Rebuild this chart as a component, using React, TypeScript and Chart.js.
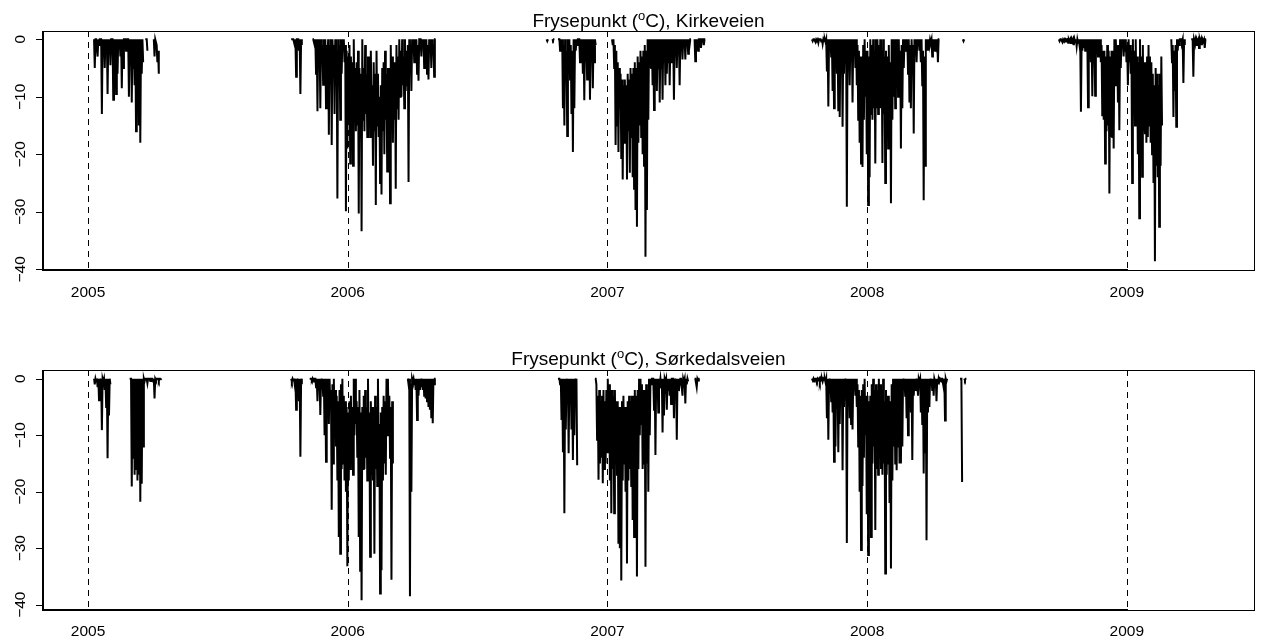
import React, { useEffect, useRef } from "react";
import { Chart, registerables } from "chart.js";
Chart.register(...registerables);

// ---- axis ticks ----
const YEAR_TICKS = [2005, 2006, 2007, 2008, 2009];
const Y_TICKS = [0, -10, -20, -30, -40];
const STEP_DAYS = 2; // each entry = one 2-day window: HI = shallowest, LO = deepest reading

// ===================== Kirkeveien =====================
const KIRKE_2005_START = { year: 2005, day: 9 };
const KIRKE_2005_LO = [-5, 0, -3, -1, 0, -13, -1, -5, -2, -9.5, -1, -4.5, 0, -10.5, -3, -9.5, -6, -1, -3, -8.5, -5, 0, -2, 0, -10, -1, -11, -5, -8, -16, -6, -15, -18, -6, -4, null, 0, -2, null, null, null, null, -3, 0, -4, -6];
const KIRKE_2005_HI = [0, 0, 0, 0, 0, 0, 0, 0, 0, 0, 0, 0, 0, 0, 0, 0, 0, 0, 0, 0, 0, 0, 0, 0, 0, 0, 0, 0, 0, 0, 0, 0, 0, 0, 0, null, 0, 0, null, null, null, null, 0, 0, -1, -2];

const KIRKE_0506_START = { year: 2006, day: -79 };
const KIRKE_0506_LO = [0, 0, -1, -6.5, 0, -2, -9.5, -1,
  null, null, null, null, null, null, null,
  0, -1, -6, -12.5, -3, -12, -2, -7.9, -1, -12, -4, -16.6, -6, -18.4, -3, -13, -8, -27.7, -2, -14, -6, -1, -4, -29.9, -19,
  -14, -21.6, -15, -22, -12, -16, -15, -30.3, -17, -33.4, -14, -16, -13, -17, -15, -17, -14, -22, -16, -28.8, -15, -17, -25, -27, -16, -20, -14, -23, -16, -28.5, -13, -18, -14, -26, -12, -14, -10, -10, -8, -12, -9, -8, -24.8, -4, -9, -2,
  -4, -1, -6, -7.2, 0, -3, -1, -5, -1, -6, -7, -2, -5, -1, -6.5, 0];
const KIRKE_0506_HI = [0, 0, 0, 0, 0, 0, 0, 0,
  null, null, null, null, null, null, null,
  0, 0, 0, 0, 0, 0, 0, -1, 0, 0, -1, 0, -1, 0, 0, -1, 0, -2, 0, -1, 0, 0, 0, -1, -2,
  -3, -1, -3, -4, 0, -5, -4, -2, -5, -6, 0, -5, -1, -6, -3, -3, -2, -8, -4, -6, -2, -6, -10, -8, -5, -4, -2, -6, -5, -5, -1, -3, -4, -4, -1, -3, 0, -2, 0, -3, 0, -2, -1, 0, -1, 0,
  0, 0, 0, -1, 0, 0, 0, 0, 0, 0, -1, 0, 0, 0, -1, 0];

const KIRKE_0607_START = { year: 2007, day: -85 };
const KIRKE_0607_LO = [-0.3, 0, null, null, -0.2, 0, null, null,
  0, -2, -1, -12, -15, -4, -16.8, -2, -7, -13, -19.6, -12, -2, -1, 0, -4, -1, -6, -10.6, -4, -7, -2, -10.5, -3, -8.5, -4, -1,
  null, null, null, null, null, null, null, null, null, null, null,
  -1, -5, -18.4, -15, -19.6, -12, -20.8, -24.4, -18, -17, -24.4, -16, -23.2, -17, -24, -26, -29.7, -32.6, -18, -15, -17, -20, -22, -37.8, -29.7, -14, -5, -5,
  -8, -12.3, -5, -9, -5, -11, -5, -10.5, -4, -8, -6, -4, -8, -4, -4, -10.5, -2, -5, -2, -8, -1, -3.5, -1, -3.5, -1, -2.5, -1, 0, null, null, -3.8, -1, -2, 0, -1.5, 0, -1, 0];
const KIRKE_0607_HI = [0, 0, null, null, 0, 0, null, null,
  0, 0, 0, 0, -1, 0, -2, 0, 0, -1, -2, 0, 0, 0, 0, 0, 0, 0, 0, 0, 0, 0, 0, 0, 0, 0, 0,
  null, null, null, null, null, null, null, null, null, null, null,
  0, 0, -1, -2, -4, -5, -6, -7, -8, -7, -8, -6, -7, -5, -6, -5, -4, -5, -3, -4, -2, -3, -2, -1, -2, 0, 0, 0,
  0, 0, 0, 0, 0, 0, 0, 0, 0, 0, 0, 0, 0, 0, 0, 0, 0, 0, 0, 0, 0, 0, 0, 0, 0, 0, 0, 0, null, null, 0, 0, 0, 0, 0, 0, 0, 0];

const KIRKE_0708_START = { year: 2008, day: -77 };
const KIRKE_0708_LO = [-0.3, 0, -0.5, -0.2, -0.6, 0, -0.4, -0.8, -0.3, -0.5,
  -5.6, -11.7, -1, -3, -9, -12, -2, -6, -12.5, -13.5, -4, -15.2, -6, -1, -29.1, -1, -8, -3, -11, -2, -5, -8, -14, -18, -21.6, -22.2, -14, -10, -20,
  -28.8, -24, -13, -14, -12, -21.6, -12, -13, -12, -12, -21.5, -13, -25, -17, -19, -16, -28.5, -14, -10, -12, -8, -10, -9, -19, -12, -5, -2, -1, -6, -11, -12, -4, -16.4, -1, -4, -1, -2, -4, -8, -28, -22, -1, -2, -1, -0.5, -3, -1, -2, -1, -4, 0,
  null, null, null, null, null, null, null, null, null, null, null, null, null, null, null, null, -0.3, 0];
const KIRKE_0708_HI = [0, 0, 0, 0, 0, 0, 0, 0, 0, 0,
  0, 0, 0, 0, 0, 0, 0, 0, 0, 0, 0, 0, 0, 0, 0, 0, 0, 0, 0, 0, 0, 0, -1, -2, -3, -3, -1, 0, -2,
  -2, -3, 0, -1, 0, -2, 0, 0, -1, 0, -2, 0, -3, -2, -3, -1, -4, 0, 0, 0, 0, 0, 0, -2, -1, 0, 0, 0, 0, 0, -1, 0, -1, 0, 0, 0, 0, 0, 0, -2, -3, 0, 0, 0, 0, 0, 0, 0, 0, 0, 0,
  null, null, null, null, null, null, null, null, null, null, null, null, null, null, null, null, 0, 0];

const KIRKE_0809_START = { year: 2009, day: -95 };
const KIRKE_0809_LO = [-0.3, 0, -0.5, -0.2, -0.4, -0.1, -0.6, -0.3, -0.8, -0.4, -1, -0.5, -1.2, -0.6, -1,
  -12.6, -2, -1.5, -2, -1, -11.8, -2.5, -4, -9.9, -1, -9.8, -1.5, -3, -2, -4, -13.2, -14, -21.6, -16, -15, -26.8, -17, -17, -19, -8, -5, -11, -15.8, -5, -1, -3, -2, -4,
  -8, -4, -6, -25, -12, -15, -10, -20, -31.1, -14, -23.9, -16, -16.5, -18, -17, -15, -18, -20, -25, -38.6, -22, -24, -32.6, -22, -15,
  null, null, null, null, null, null,
  -4, -13.5, -9, -15.2, -2, -1, 0, -0.5, -7.6, -1,
  null, null, null, null,
  0, -6.5, -0.5, -1, -0.3, -1.5, -0.5, -1, -0.3, -1.5, 0];
const KIRKE_0809_HI = [0, 0, 0, 0, 0, 0, 0, 0, 0, 0, 0, 0, 0, 0, 0,
  0, 0, 0, 0, 0, 0, 0, 0, 0, 0, 0, 0, 0, 0, 0, -1, -2, -2, -3, -1, -2, -3, -2, -2, 0, 0, -1, -1, 0, 0, 0, 0, 0,
  -1, 0, -1, -2, 0, -2, 0, -3, -4, 0, -3, -1, -4, -4, -3, -1, -3, -4, -6, -8, -5, -6, -8, -6, -3,
  null, null, null, null, null, null,
  0, -1, -2, -1, 0, 0, 0, 0, 0, 0,
  null, null, null, null,
  0, 0, 0, 0, 0, 0, 0, 0, 0, 0, 0];

// ===================== Sørkedalsveien =====================
const SORK_2005_START = { year: 2005, day: 9 };
const SORK_2005_LO = [-1, -0.5, -1.5, -3.8, -1, -9.1, -0.5, -2, -5, -14.1, -6.5, -1,
  null, null, null, null, null, null, null, null, null, null, null, null, null,
  0, -19.1, -14, -17, -16, -18, -17, -21.8, -18.6, -12, -0.5, 0, -0.8, 0, -0.4, 0, -0.5, -3.5, -0.3, 0, -0.4, 0, -0.2];
const SORK_2005_HI = [0, 0, 0, 0, 0, 0, 0, 0, 0, 0, 0, 0,
  null, null, null, null, null, null, null, null, null, null, null, null, null,
  0, 0, 0, 0, 0, 0, 0, 0, 0, 0, 0, 0, 0, 0, 0, 0, 0, 0, 0, 0, 0, 0, 0];

const SORK_0506_START = { year: 2006, day: -79 };
const SORK_0506_LO = [-0.5, -0.3, -1, -5.5, -1, -4, -13.8, -1,
  null, null, null, null, null,
  0, -0.3, -0.5, 0, -1.5, -4, -2, -6.4, -1, -3, -10, -14.7, -3, -8, -5, -23.2, -15, -10, -12, -18, -28, -31, -16, -15, -18, -20, -33.2,
  -18, -16, -15, -17, -10, -8, -14, -28, -34, -39.2, -16, -16, -14, -18, -15, -31.5, -17, -18, -31, -16, -19, -14, -38, -33.9, -18, -15, -17, -10, -8, -14, -35.6, -15,
  null, null, null, null, null, null, null, null, null, null,
  -1, -38.5, -20, -0.5, -1, -2, -7.3, -3, -2, -1.5, -2, -3, -3.5, -4, -5, -5.5, -7, -7.9, -1, 0];
const SORK_0506_HI = [0, 0, 0, 0, 0, 0, 0, 0,
  null, null, null, null, null,
  0, 0, 0, 0, 0, 0, 0, 0, 0, 0, 0, 0, 0, 0, 0, -2, -1, 0, -2, -3, -4, -2, -1, 0, -3, -4, -5,
  -6, -4, -3, -5, 0, 0, -4, -5, -2, -6, -5, -3, -2, -5, 0, -6, -4, -5, -7, -3, -5, 0, -8, -6, -5, -3, -4, 0, 0, -3, -5, -4,
  null, null, null, null, null, null, null, null, null, null,
  0, 0, -1, 0, 0, 0, 0, 0, 0, 0, 0, 0, 0, 0, 0, 0, 0, 0, 0, 0];

const SORK_0607_START = { year: 2007, day: -69 };
const SORK_0607_LO = [0, -1, -7.3, -13, -23.8, -9, -1, -13.2, -3, -9, -14.4, -10, -1, -15.3,
  null, null, null, null, null, null, null, null, null, null, null, null,
  0, -10.8, -17.9, -15, -14, -18.5, -16, -15, -13,
  -8, -18, -23.8, -16, -23.8, -14, -17, -29.2, -30, -35.7, -18, -15, -20, -32.7, -18, -16, -19, -25, -28, -18, -35, -16, -10, -8, -16, -15, -33.3, -15, -20, -10, -1, 0,
  -5.5, -13.5, -3, -6, -1, -1.5, -9.5, -6.5, -0.5, -5.5, -2, -3, -4.5, 0, -7, -1, -10.8, -2, -1, 0, -3, -0.5, -4.4, -1, -0.5,
  null, null, null, null,
  0, -1.5, -0.3, 0];
const SORK_0607_HI = [0, 0, 0, 0, 0, 0, 0, 0, 0, 0, 0, 0, 0, 0,
  null, null, null, null, null, null, null, null, null, null, null, null,
  0, -1, -3, -2, -4, -3, -2, -4, -2,
  0, -1, -2, -2, -3, -2, -4, -4, -5, -5, -4, -3, -5, -5, -4, -3, -4, -3, -3, -2, -3, -2, 0, 0, -1, -2, -2, -1, -2, 0, 0, 0,
  0, 0, 0, 0, 0, 0, 0, 0, 0, 0, 0, 0, 0, 0, 0, 0, 0, 0, 0, 0, 0, 0, 0, 0, 0,
  null, null, null, null,
  0, 0, 0, 0];

const SORK_0708_START = { year: 2008, day: -77 };
const SORK_0708_LO = [-0.3, -0.5, 0, -0.4, -0.2, -0.6, -0.3, -0.5, -0.2, -0.6,
  -7, -10.8, -1, -4, -6, -14.7, -12, -5, -13, -8, -3, -16.2, -5, -1, -29.1, -2, -7, -8, -9, -2, -3, -5, -12, -20, -30.3, -19, -14, -10, -24,
  -31.2, -20, -28, -15, -12, -26.8, -16, -17, -14, -16, -17, -15, -34.5, -17, -15, -22, -33.6, -18, -12, -15, -16.2, -12, -15, -15, -12, -1, -3, -7, -10, -4, -6, -14.4, -3, -2, -1, -3, -0.5, -6, -8, -16.8, -13, -28.6, -6, -5, -1, -2, -3, -0.5, -4, -1, -0.5, -0.2, 0, -1.5, -7.4, -0.5, 0,
  null, null, null, null, null, null, null, null, 0, -18.3, null, -0.3, 0];
const SORK_0708_HI = [0, 0, 0, 0, 0, 0, 0, 0, 0, 0,
  0, 0, 0, 0, 0, 0, 0, 0, 0, 0, 0, 0, 0, 0, 0, 0, 0, 0, 0, 0, 0, 0, -1, -2, -3, -2, -1, 0, -3,
  -3, -4, -3, -1, 0, -2, -1, -2, 0, -1, -2, 0, -4, -2, -3, -3, -4, -1, 0,
  0, 0, 0, 0, 0, 0, 0, 0, 0, 0, 0, 0, 0, 0, 0, 0, 0, 0, 0, 0, 0, 0, 0, 0, 0, 0, 0, 0, 0, 0, 0, 0, 0, 0, 0, 0, 0, 0,
  null, null, null, null, null, null, null, null, 0, 0, null, 0, 0];

type Vals = (number | null)[];
type Season = { start: { year: number; day: number }; hi: Vals; lo: Vals };

const KIRKE_SEASONS: Season[] = [
  { start: KIRKE_2005_START, hi: KIRKE_2005_HI, lo: KIRKE_2005_LO },
  { start: KIRKE_0506_START, hi: KIRKE_0506_HI, lo: KIRKE_0506_LO },
  { start: KIRKE_0607_START, hi: KIRKE_0607_HI, lo: KIRKE_0607_LO },
  { start: KIRKE_0708_START, hi: KIRKE_0708_HI, lo: KIRKE_0708_LO },
  { start: KIRKE_0809_START, hi: KIRKE_0809_HI, lo: KIRKE_0809_LO },
];
const SORK_SEASONS: Season[] = [
  { start: SORK_2005_START, hi: SORK_2005_HI, lo: SORK_2005_LO },
  { start: SORK_0506_START, hi: SORK_0506_HI, lo: SORK_0506_LO },
  { start: SORK_0607_START, hi: SORK_0607_HI, lo: SORK_0607_LO },
  { start: SORK_0708_START, hi: SORK_0708_HI, lo: SORK_0708_LO },
];

function toPoints(seasons: Season[]) {
  const pts: { x: number; y: number | null }[] = [];
  seasons.forEach((s, k) => {
    if (k > 0) pts.push({ x: s.start.year + (s.start.day - 1) / 365, y: null });
    s.lo.forEach((v, i) => {
      const d = s.start.day + STEP_DAYS * i;
      const h = s.hi[i];
      if (v === null || v === undefined) {
        pts.push({ x: s.start.year + d / 365, y: null });
        return;
      }
      pts.push({ x: s.start.year + (d - 0.5) / 365, y: h === null || h === undefined ? v : h });
      pts.push({ x: s.start.year + (d + 0.5) / 365, y: v });
    });
  });
  return pts;
}

const FONT = '"Liberation Sans", Arial, Helvetica, sans-serif';

const rAxesPlugin = {
  id: "rAxes",
  afterDatasetsDraw(chart: any, _args: any, opts: any) {
    const { ctx, chartArea: a } = chart;
    const x = chart.scales.x;
    const y = chart.scales.y;
    ctx.save();
    ctx.strokeStyle = "#000";
    ctx.fillStyle = "#000";
    // dashed year lines
    ctx.lineWidth = 1;
    ctx.setLineDash([6, 5]);
    YEAR_TICKS.forEach((yr) => {
      const px = Math.round(x.getPixelForValue(yr)) + 0.5;
      ctx.beginPath();
      ctx.moveTo(px, a.top);
      ctx.lineTo(px, a.bottom);
      ctx.stroke();
    });
    ctx.setLineDash([]);
    // box
    ctx.strokeRect(a.left + 0.5, a.top + 0.5, a.right - a.left, a.bottom - a.top);
    // axis lines overlapping the box
    const x09 = Math.round(x.getPixelForValue(2009));
    ctx.fillRect(a.left - 1, a.top, 2, a.bottom - a.top + 1);
    ctx.fillRect(a.left - 1, a.bottom - 1, x09 - a.left + 2, 2);
    // y ticks + rotated labels
    ctx.font = `15.5px ${FONT}`;
    Y_TICKS.forEach((v) => {
      const py = Math.round(y.getPixelForValue(v)) + 0.5;
      ctx.beginPath();
      ctx.moveTo(a.left, py);
      ctx.lineTo(a.left - 7, py);
      ctx.stroke();
      ctx.save();
      ctx.translate(opts.yLabelX, y.getPixelForValue(v));
      ctx.rotate(-Math.PI / 2);
      ctx.textAlign = "center";
      ctx.textBaseline = "alphabetic";
      ctx.fillText(v === 0 ? "0" : "\u2212" + Math.abs(v), 0, 0);
      ctx.restore();
    });
    // x labels
    ctx.textAlign = "center";
    ctx.textBaseline = "alphabetic";
    YEAR_TICKS.forEach((yr) => {
      ctx.fillText(String(yr), x.getPixelForValue(yr), opts.xLabelY);
    });
    // title with superscript
    const mainFont = `19px ${FONT}`;
    const supFont = `13px ${FONT}`;
    const p1 = "Frysepunkt (";
    const p2 = "o";
    const p3 = "C), " + opts.name;
    ctx.font = mainFont;
    const w1 = ctx.measureText(p1).width;
    const w3 = ctx.measureText(p3).width;
    ctx.font = supFont;
    const w2 = ctx.measureText(p2).width;
    let sx = (a.left + a.right) / 2 - (w1 + w2 + w3) / 2;
    ctx.textAlign = "left";
    ctx.font = mainFont;
    ctx.fillText(p1, sx, opts.titleY);
    sx += w1;
    ctx.font = supFont;
    ctx.fillText(p2, sx, opts.titleY - 7);
    sx += w2;
    ctx.font = mainFont;
    ctx.fillText(p3, sx, opts.titleY);
    ctx.restore();
  },
};

type PanelCfg = {
  seasons: Season[];
  name: string;
  padding: { left: number; right: number; top: number; bottom: number };
  yMin: number;
  yMax: number;
  titleY: number;
  xLabelY: number;
  yLabelX: number;
};

const X_MIN = 2004.8267;
const X_MAX = 2009.4897;

const PANELS: PanelCfg[] = [
  {
    seasons: KIRKE_SEASONS,
    name: "Kirkeveien",
    padding: { left: 43, right: 7, top: 31, bottom: 51 },
    yMin: -40.12,
    yMax: 1.443,
    titleY: 27,
    xLabelY: 297,
    yLabelX: 25,
  },
  {
    seasons: SORK_SEASONS,
    name: "Sørkedalsveien",
    padding: { left: 43, right: 7, top: 49, bottom: 32 },
    yMin: -40.94,
    yMax: 1.54,
    titleY: 44,
    xLabelY: 315,
    yLabelX: 25,
  },
];

function makeChart(canvas: HTMLCanvasElement, p: PanelCfg) {
  return new Chart(canvas, {
    type: "line",
    data: {
      datasets: [
        {
          data: toPoints(p.seasons) as any,
          borderColor: "#000",
          borderWidth: 2,
          pointRadius: 0,
          spanGaps: false,
          tension: 0,
          fill: false,
        },
      ],
    },
    options: {
      responsive: false,
      animation: false,
      devicePixelRatio: 1,
      events: [],
      layout: { padding: p.padding },
      scales: {
        x: { type: "linear", min: X_MIN, max: X_MAX, display: false },
        y: { type: "linear", min: p.yMin, max: p.yMax, display: false },
      },
      plugins: {
        legend: { display: false },
        tooltip: { enabled: false },
        title: { display: false },
        rAxes: { name: p.name, titleY: p.titleY, xLabelY: p.xLabelY, yLabelX: p.yLabelX },
      } as any,
    },
    plugins: [rAxesPlugin as any],
  });
}

export default function App() {
  const r1 = useRef<HTMLCanvasElement>(null);
  const r2 = useRef<HTMLCanvasElement>(null);
  useEffect(() => {
    document.body.style.margin = "0";
    const charts = [makeChart(r1.current!, PANELS[0]), makeChart(r2.current!, PANELS[1])];
    return () => charts.forEach((c) => c.destroy());
  }, []);
  return (
    <div style={{ position: "absolute", left: 0, top: 0, width: 1261, height: 642, background: "#fff" }}>
      <canvas ref={r1} width={1261} height={321} style={{ display: "block", width: 1261, height: 321 }} />
      <canvas ref={r2} width={1261} height={321} style={{ display: "block", width: 1261, height: 321 }} />
    </div>
  );
}
